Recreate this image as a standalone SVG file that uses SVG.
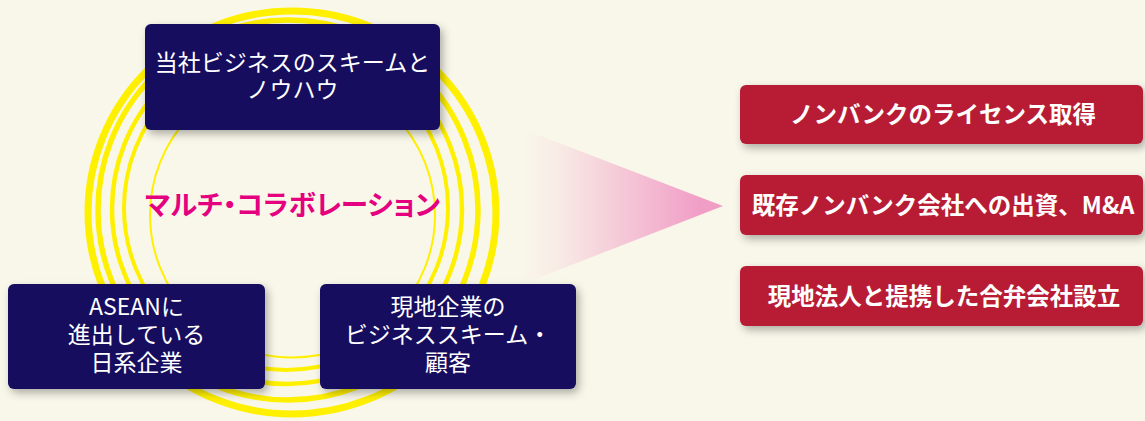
<svg xmlns="http://www.w3.org/2000/svg" width="1145" height="421" viewBox="0 0 1145 421">
  <style>
    .ring { fill: none; stroke: #fff000; }
    .navy { fill: #120a5e; }
    .red { fill: #b81a36; }
    .ntxt { font-family: "Noto Sans CJK JP", "Noto Sans", sans-serif; font-size: 23px; fill: #ffffff; text-anchor: middle; }
    .rtxt { font-family: "Noto Sans CJK JP", "Noto Sans", sans-serif; font-size: 23.5px; font-weight: 700; fill: #ffffff; text-anchor: middle; }
    .center { font-family: "Noto Sans CJK JP", "Noto Sans", sans-serif; font-size: 27.5px; font-weight: 700; fill: #e4007f; text-anchor: middle; font-feature-settings: "palt"; }
  </style>
  <defs>
    <filter id="shadow" x="-10%" y="-20%" width="130%" height="150%">
      <feDropShadow dx="3" dy="4" stdDeviation="4" flood-color="#000000" flood-opacity="0.3"/>
    </filter>
    <linearGradient id="pinkfade" x1="520" y1="0" x2="700" y2="0" gradientUnits="userSpaceOnUse">
      <stop offset="0" stop-color="#f19ec6" stop-opacity="0"/>
      <stop offset="0.2" stop-color="#f19ec6" stop-opacity="0.12"/>
      <stop offset="1" stop-color="#f19ec6" stop-opacity="1"/>
    </linearGradient>
  </defs>
  <rect x="0" y="0" width="1145" height="421" fill="#f9f7ea"/>

  <g id="rings">
    <ellipse class="ring" cx="292" cy="212.5" rx="204" ry="201.5" stroke-width="7"/>
    <circle class="ring" cx="288" cy="210" r="190" stroke-width="5.5"/>
    <circle class="ring" cx="287" cy="209" r="175" stroke-width="4.5"/>
    <circle class="ring" cx="286" cy="208" r="162" stroke-width="4"/>
    <circle class="ring" cx="292.5" cy="215" r="142.5" stroke-width="2"/>
  </g>

  <g id="arrow">
    <polygon points="520,128 723,206 520,285" fill="url(#pinkfade)"/>
  </g>

  <g id="center-label">
    <text class="center" x="292.5" y="215">マルチ・コラボレーション</text>
  </g>

  <g id="node-top">
    <rect class="navy" x="145" y="24" width="295" height="106" rx="6" filter="url(#shadow)"/>
    <text class="ntxt" x="292.5" y="71"><tspan x="292.5">当社ビジネスのスキームと</tspan><tspan x="292.5" dy="27">ノウハウ</tspan></text>
  </g>

  <g id="node-left">
    <rect class="navy" x="8" y="284" width="257" height="105" rx="6" filter="url(#shadow)"/>
    <text class="ntxt" x="136.5" y="315"><tspan x="136.5">ASEANに</tspan><tspan x="136.5" dy="28">進出している</tspan><tspan x="136.5" dy="28">日系企業</tspan></text>
  </g>

  <g id="node-right">
    <rect class="navy" x="320" y="284" width="256" height="105" rx="6" filter="url(#shadow)"/>
    <text class="ntxt" x="448" y="315"><tspan x="448">現地企業の</tspan><tspan x="448" dy="28">ビジネススキーム・</tspan><tspan x="448" dy="28">顧客</tspan></text>
  </g>

  <g id="result-1">
    <rect class="red" x="740" y="85" width="403" height="59" rx="6" filter="url(#shadow)"/>
    <text class="rtxt" x="943" y="123">ノンバンクのライセンス取得</text>
  </g>
  <g id="result-2">
    <rect class="red" x="740" y="175" width="403" height="60" rx="6" filter="url(#shadow)"/>
    <text class="rtxt" x="943" y="213.5">既存ノンバンク会社への出資、M&amp;A</text>
  </g>
  <g id="result-3">
    <rect class="red" x="740" y="266" width="403" height="60" rx="6" filter="url(#shadow)"/>
    <text class="rtxt" x="944" y="304.5">現地法人と提携した合弁会社設立</text>
  </g>
</svg>
